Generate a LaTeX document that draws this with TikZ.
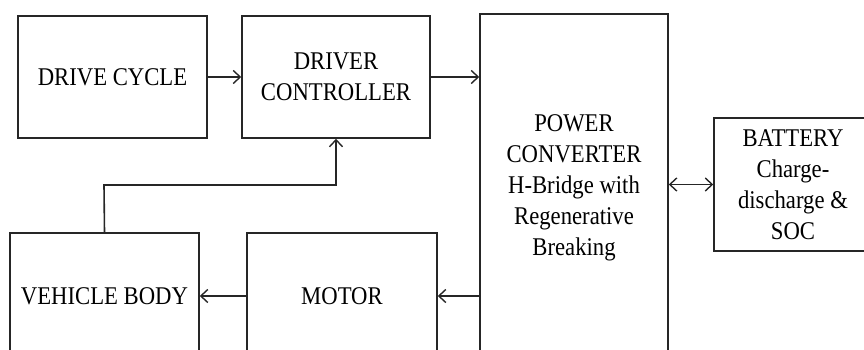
\documentclass[tikz,border=0pt]{standalone}
\usepackage{fontspec}
\setmainfont[FakeStretch=0.89]{Liberation Serif}
\usetikzlibrary{arrows.meta,calc}
\begin{document}
\begin{tikzpicture}[x=1pt,y=-1pt,
  blk/.style={draw=black!85,line width=1.5pt,rectangle,inner sep=0pt,align=center,
    font=\fontsize{25.5}{31}\selectfont},
  tip/.tip={Straight Barb[length=7pt,width=13pt,line width=1.4pt]},
  conn/.style={draw=black!85,line width=1.6pt,-tip},
  bconn/.style={draw=black!85,line width=1.6pt,tip-tip}]
\useasboundingbox (0,0) rectangle (864,350);
\clip (0,0) rectangle (864,350);
\node[blk,minimum width=189pt,minimum height=122pt] (dc) at (112.5,77) {DRIVE CYCLE};
\node[blk,minimum width=188pt,minimum height=122pt] (ctrl) at (336,77) {DRIVER\\CONTROLLER};
\node[blk,minimum width=188pt,minimum height=348pt] (pc) at (574,188) {POWER\\CONVERTER\\H-Bridge with\\Regenerative\\Breaking};
\node[blk,minimum width=158pt,minimum height=133pt] (bat) at (793,184.5) {BATTERY\\Charge-\\discharge \&\\SOC};
\node[blk,minimum width=189pt,minimum height=126pt] (vb) at (104.5,296) {VEHICLE BODY};
\node[blk,minimum width=190pt,minimum height=126pt] (mot) at (342,296) {MOTOR};
\coordinate (fb) at (104,185);
\draw[conn] (dc.east) -- (ctrl.west);
\draw[conn] (ctrl.east) -- (ctrl.east -| pc.west);
\draw[bconn] (bat.west -| pc.east) -- (bat.west);
\draw[conn] (mot.east -| pc.west) -- (mot.east);
\draw[conn] (mot.west) -- (vb.east);
\draw[conn] (vb.north) -- (fb) -| (ctrl.south);
\end{tikzpicture}
\end{document}
